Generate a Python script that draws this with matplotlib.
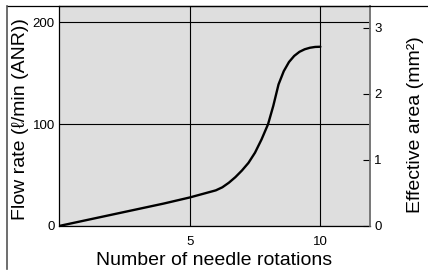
import numpy as np
import matplotlib
matplotlib.use('Agg')
import matplotlib.pyplot as plt
from matplotlib.lines import Line2D

plt.rcParams['font.family'] = ['Liberation Sans', 'DejaVu Sans']

# flow rate curve
rotations = [0, 1, 2, 3, 4, 5, 5.5, 6, 6.25, 6.5, 6.75, 7, 7.25, 7.5, 7.75,
             8, 8.2, 8.4, 8.6, 8.8, 9, 9.2, 9.4, 9.6, 9.8, 10]
flow = [0, 5.5, 11, 16.5, 22, 28, 31.5, 35, 38, 42.5, 48, 54.5, 62, 72, 85,
        100, 118, 139, 152, 161, 167, 171, 173.5, 175, 175.8, 176]

x_ticks = [5, 10]
flow_ticks = [0, 100, 200]
area_ticks = [0, 1, 2, 3]

fig = plt.figure(figsize=(4.28, 2.76), dpi=100)
ax = fig.add_axes([59/428, 1 - 226/276, 311/428, 220/276])
ax.set_facecolor('#dedede')

ax.plot(rotations, flow, color='black', lw=1.7, solid_capstyle='round',
        solid_joinstyle='round')

ax.set_xlim(0, 11.9)
ax.set_ylim(0, 216)
ax.set_xticks(x_ticks)
ax.set_yticks(flow_ticks)
ax.grid(True, color='black', lw=0.8)
ax.set_axisbelow(True)
ax.tick_params(axis='x', length=0, pad=7, labelsize=9.5)
ax.tick_params(axis='y', length=0, pad=3, labelsize=9.5)
for s in ['left', 'bottom', 'top']:
    ax.spines[s].set_color('black')
    ax.spines[s].set_linewidth(0.9)
ax.spines['right'].set_color('#777777')
ax.spines['right'].set_linewidth(1.2)

ax2 = ax.twinx()
ax2.set_ylim(0, 3.33)
ax2.set_yticks(area_ticks)
ax2.tick_params(axis='y', direction='in', length=5, width=0.8, pad=3,
                labelsize=9.5, color='black')
ax2.spines['right'].set_color('#777777')
ax2.spines['right'].set_linewidth(1.2)
for s in ['left', 'bottom', 'top']:
    ax2.spines[s].set_visible(False)

ax.set_xlabel('Number of needle rotations', fontsize=14, labelpad=3)
fig.text(21/428, 1 - 119/276, 'Flow rate (ℓ/min (ANR))', rotation=90,
         ha='center', va='center', fontsize=14)
fig.text(415/428, 1 - 125/276, 'Effective area (mm²)', rotation=90,
         ha='center', va='center', fontsize=14)

# outer frame (only top and left edges visible)
fig.add_artist(Line2D([7/428, 1], [1 - 6/276, 1 - 6/276], color='black', lw=0.9))
fig.add_artist(Line2D([7/428, 7/428], [1 - 6/276, 1 - 269/276], color='#555555', lw=1.2))

fig.savefig('out.png', dpi=100)
